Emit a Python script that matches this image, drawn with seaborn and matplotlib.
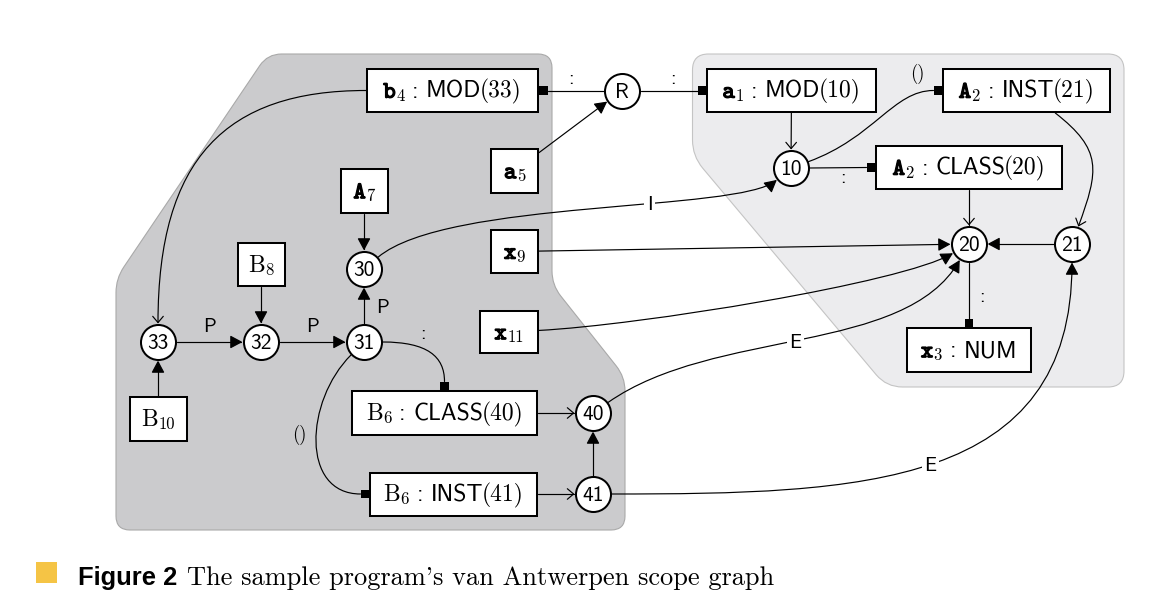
import numpy as np
import matplotlib.pyplot as plt
import matplotlib.patheffects as pe
import seaborn as sns
from matplotlib.patches import Rectangle, FancyArrowPatch, PathPatch
from matplotlib.path import Path

# ---- scope nodes (circles) ----
circle_names = ["R", "10", "20", "21", "30", "31", "32", "33", "40", "41"]
circle_x = [622, 791, 969, 1072, 364, 364, 261, 158, 593, 593]
circle_y = [90.5, 168, 244, 244, 269, 342, 342, 342, 413, 494]

# ---- declaration / reference nodes (boxes) ----
box_names = ["b4", "a1", "A2i", "A2c", "x3", "a5", "A7", "B8", "x9", "x11", "B10", "B6c", "B6i"]
box_ident = ["b", "a", "A", "A", "x", "a", "A", "B", "x", "x", "B", "B", "B"]
box_sub = ["4", "1", "2", "2", "3", "5", "7", "8", "9", "11", "10", "6", "6"]
box_kind = ["MOD", "MOD", "INST", "CLASS", "NUM", "", "", "", "", "", "", "CLASS", "INST"]
box_arg = ["33", "10", "21", "20", "", "", "", "", "", "", "", "40", "41"]
box_x = [452.5, 791.5, 1026.5, 969, 969, 514.5, 364, 261, 514.5, 509, 158, 444.5, 453.5]
box_y = [90.5, 90.5, 90.5, 167.5, 350, 171, 191, 264.5, 251.5, 332, 419, 413, 494]
box_w = [173, 171, 169, 188, 126, 49, 49, 49, 49, 60, 59, 187, 169]
box_h = [45, 45, 45, 45, 46, 46, 46, 45, 45, 44, 46, 46, 45]

# ---- edges: src, dst, head, out angle, in angle, out length, in length ----
edges = [
    ("R", "b4", "sq", 180, 0, 0, 0),
    ("R", "a1", "sq", 0, 180, 0, 0),
    ("a5", "R", "fill", None, None, 0, 0),
    ("b4", "33", "open", 180, 90, 140, 165),
    ("A7", "30", "fill", None, None, 0, 0),
    ("B8", "32", "fill", None, None, 0, 0),
    ("B10", "33", "fill", None, None, 0, 0),
    ("33", "32", "fill", None, None, 0, 0),
    ("32", "31", "fill", None, None, 0, 0),
    ("31", "30", "fill", None, None, 0, 0),
    ("31", "B6c", "sq", 0, 90, 45, 25),
    ("31", "B6i", "sq", 225, 180, 65, 60),
    ("B6c", "40", "open", None, None, 0, 0),
    ("B6i", "41", "open", None, None, 0, 0),
    ("41", "40", "fill", None, None, 0, 0),
    ("40", "20", "fill", 35, 240, 130, 110),
    ("41", "21", "fill", 0, 270, 250, 225),
    ("x9", "20", "fill", None, None, 0, 0),
    ("x11", "20", "fill", 3, 210, 100, 60),
    ("30", "10", "fill", 40, 220, 90, 50),
    ("a1", "10", "open", None, None, 0, 0),
    ("10", "A2c", "sq", 0, 180, 0, 0),
    ("10", "A2i", "sq", 20, 180, 70, 40),
    ("A2i", "21", "open", -38, 70, 60, 60),
    ("A2c", "20", "open", None, None, 0, 0),
    ("21", "20", "fill", None, None, 0, 0),
    ("20", "x3", "sq", 270, 90, 0, 0),
]

# ---- edge labels: src, dst, text, position on edge, offset ----
edge_labels = [
    ("R", "b4", ":", 0.5, -4.5, -6.5),
    ("R", "a1", ":", 0.5, 4, -6.5),
    ("33", "32", "P", 0.5, 0, -10),
    ("32", "31", "P", 0.5, 0, -10),
    ("31", "30", "P", 0.5, 18.7, 7.2),
    ("31", "B6c", ":", 0.5, -8, -13.4),
    ("31", "B6i", "()", 0.5, -16.3, -1.4),
    ("10", "A2c", ":", 0.5, 5, 15),
    ("10", "A2i", "()", 0.5, 37, -38.5),
    ("20", "x3", ":", 0.5, 12.8, 11.2),
    ("30", "10", "I", 0.62, 0, 7),
    ("40", "20", "E", 0.48, 0, 7),
    ("41", "21", "E", 0.49, 0, 7),
]

# ---- shaded scope regions ----
dark_region = [(267.6, 54), (552, 54), (552, 285), (625, 377), (625, 530), (116, 530), (116, 278.6)]
light_region = [(692.5, 54), (1124, 54), (1124, 387), (886.5, 387), (692.5, 156)]

caption_bold = "Figure 2"
caption_text = "The sample program's van Antwerpen scope graph"

R_OUT = 18.5
SQ = 8.5
SANS = ["cmss10", "DejaVu Sans"]
SERIF = ["cmr10", "DejaVu Serif"]
MONO = ["cmtt10", "DejaVu Sans Mono"]

sns.set_theme(style="white")
plt.rcParams["font.family"] = SANS
plt.rcParams["text.color"] = "black"

circles = {n: np.array([x, y], float) for n, x, y in zip(circle_names, circle_x, circle_y)}
boxes = {n: (x, y, w, h) for n, x, y, w, h in zip(box_names, box_x, box_y, box_w, box_h)}


def center(name):
    if name in circles:
        return circles[name]
    return np.array(boxes[name][:2], float)


def anchor(name, ang):
    a = np.deg2rad(ang)
    d = np.array([np.cos(a), -np.sin(a)])
    if name in circles:
        return circles[name] + R_OUT * d, d
    cx, cy, w, h = boxes[name]
    tx = (w / 2) / abs(d[0]) if abs(d[0]) > 1e-9 else np.inf
    ty = (h / 2) / abs(d[1]) if abs(d[1]) > 1e-9 else np.inf
    return np.array([cx, cy]) + min(tx, ty) * d, d


def rounded_path(verts, r):
    verts = np.asarray(verts, float)
    n = len(verts)
    pts, codes = [], []
    for i in range(n):
        v, p, q = verts[i], verts[i - 1], verts[(i + 1) % n]
        a = v + r * (p - v) / np.linalg.norm(p - v)
        b = v + r * (q - v) / np.linalg.norm(q - v)
        pts += [a, v, b]
        codes += [Path.MOVETO if i == 0 else Path.LINETO, Path.CURVE3, Path.CURVE3]
    pts.append(pts[0])
    codes.append(Path.CLOSEPOLY)
    return Path(pts, codes)


def bezier(ctrl, t):
    p0, p1, p2, p3 = ctrl
    return ((1 - t) ** 3) * p0 + 3 * (1 - t) ** 2 * t * p1 + 3 * (1 - t) * t ** 2 * p2 + t ** 3 * p3


fig = plt.figure(figsize=(11.74, 6.12), dpi=100)
ax = fig.add_axes([0, 0, 1, 1])
ax.set_xlim(0, 1174)
ax.set_ylim(612, 0)
renderer = fig.canvas.get_renderer()


def put_runs(xc, base, runs):
    # runs: text, size, family, baseline shift, gap before, stroke width
    placed, x = [], 0.0
    for txt, fs, fam, dy, gap, stroke in runs:
        t = ax.text(0, base + dy, txt, fontsize=fs, family=fam, ha="left", va="baseline", zorder=5)
        if stroke:
            t.set_path_effects([pe.withStroke(linewidth=stroke, foreground="black")])
        w = t.get_window_extent(renderer).width
        placed.append((t, x + gap))
        x += gap + w
    for t, off in placed:
        t.set_x(xc - x / 2 + off)


ax.add_patch(PathPatch(rounded_path(dark_region, 14), fc="#cbcbcd", ec="#a9a9a9", lw=0.8, zorder=0))
ax.add_patch(PathPatch(rounded_path(light_region, 16), fc="#ececee", ec="#c4c4c4", lw=0.8, zorder=0))

arrow_styles = {
    "fill": "-|>,head_length=0.75,head_width=0.4",
    "open": "->,head_length=0.45,head_width=0.38",
    "sq": "-",
}

curves = {}
for src, dst, head, a_out, a_in, l1, l2 in edges:
    if a_out is None:
        dv = center(dst) - center(src)
        a_out = np.degrees(np.arctan2(-dv[1], dv[0]))
        a_in = a_out + 180
    p0, d0 = anchor(src, a_out)
    p3, d3 = anchor(dst, a_in)
    if head == "sq":
        sq_c = p3 + d3 * SQ / 2
        ax.add_patch(Rectangle(sq_c - SQ / 2, SQ, SQ, fc="black", ec="none", zorder=4))
        p3 = p3 + d3 * SQ
    if l1 == 0 and l2 == 0:
        path = Path([p0, p3], [Path.MOVETO, Path.LINETO])
        ctrl = (p0, p0 + (p3 - p0) / 3, p0 + 2 * (p3 - p0) / 3, p3)
    else:
        ctrl = (p0, p0 + l1 * d0, p3 + l2 * d3, p3)
        path = Path(list(ctrl), [Path.MOVETO, Path.CURVE4, Path.CURVE4, Path.CURVE4])
    curves[(src, dst)] = ctrl
    ax.add_patch(FancyArrowPatch(path=path, arrowstyle=arrow_styles[head], mutation_scale=10,
                                 lw=0.85, color="black", zorder=2))

for src, dst, txt, t, dx, dy in edge_labels:
    px, py = bezier(curves[(src, dst)], t)
    boxed = txt in ("I", "E")
    fam = SERIF if txt == "()" else SANS
    ax.text(px + dx, py + dy, txt, ha="center", va="baseline", fontsize=14.5 if txt != "()" else 13.5,
            family=fam, zorder=6,
            bbox=dict(boxstyle="square,pad=0.12", fc="white", ec="none") if boxed else None)

# box nodes
for name, ident, sub, kind, arg in zip(box_names, box_ident, box_sub, box_kind, box_arg):
    cx, cy, w, h = boxes[name]
    ax.add_patch(Rectangle((cx - w / 2 + 1, cy - h / 2 + 1), w - 2, h - 2,
                           fc="white", ec="black", lw=1.45, zorder=3))
    if ident == "B":
        runs = [(ident, 17, SERIF, 0, 0, 0)]
    else:
        runs = [(ident, 17, MONO, 0, 0, 0.9)]
    runs.append((sub, 12, SERIF, 3.2, 0.5, 0))
    if kind:
        runs += [(":", 17, SANS, 0, 7.5, 0), (kind, 17, SANS, 0, 7.5, 0)]
    if arg:
        runs.append(("(" + arg + ")", 17, SERIF, 0, -1.5, 0))
    put_runs(cx, cy + 7.2, runs)

# circle nodes
sns.scatterplot(x=circle_x, y=circle_y, s=635, color="white", edgecolor="black",
                linewidth=1.45, zorder=3, ax=ax, legend=False)
for name in circle_names:
    cx, cy = circles[name]
    ax.text(cx, cy + 7.3, name, ha="center", va="baseline", fontsize=15.5, zorder=5)

# caption
ax.add_patch(Rectangle((36, 562), 20.7, 21, fc="#f5c445", ec="none", zorder=1))
ax.text(77.7, 585, caption_bold, ha="left", va="baseline", fontsize=18.4,
        family="Liberation Sans", fontweight="bold")
ax.text(186.7, 585, caption_text, ha="left", va="baseline", fontsize=19, family=SERIF)

ax.set_xlim(0, 1174)
ax.set_ylim(612, 0)
ax.axis("off")
fig.savefig("out.png", dpi=100, facecolor="white")
